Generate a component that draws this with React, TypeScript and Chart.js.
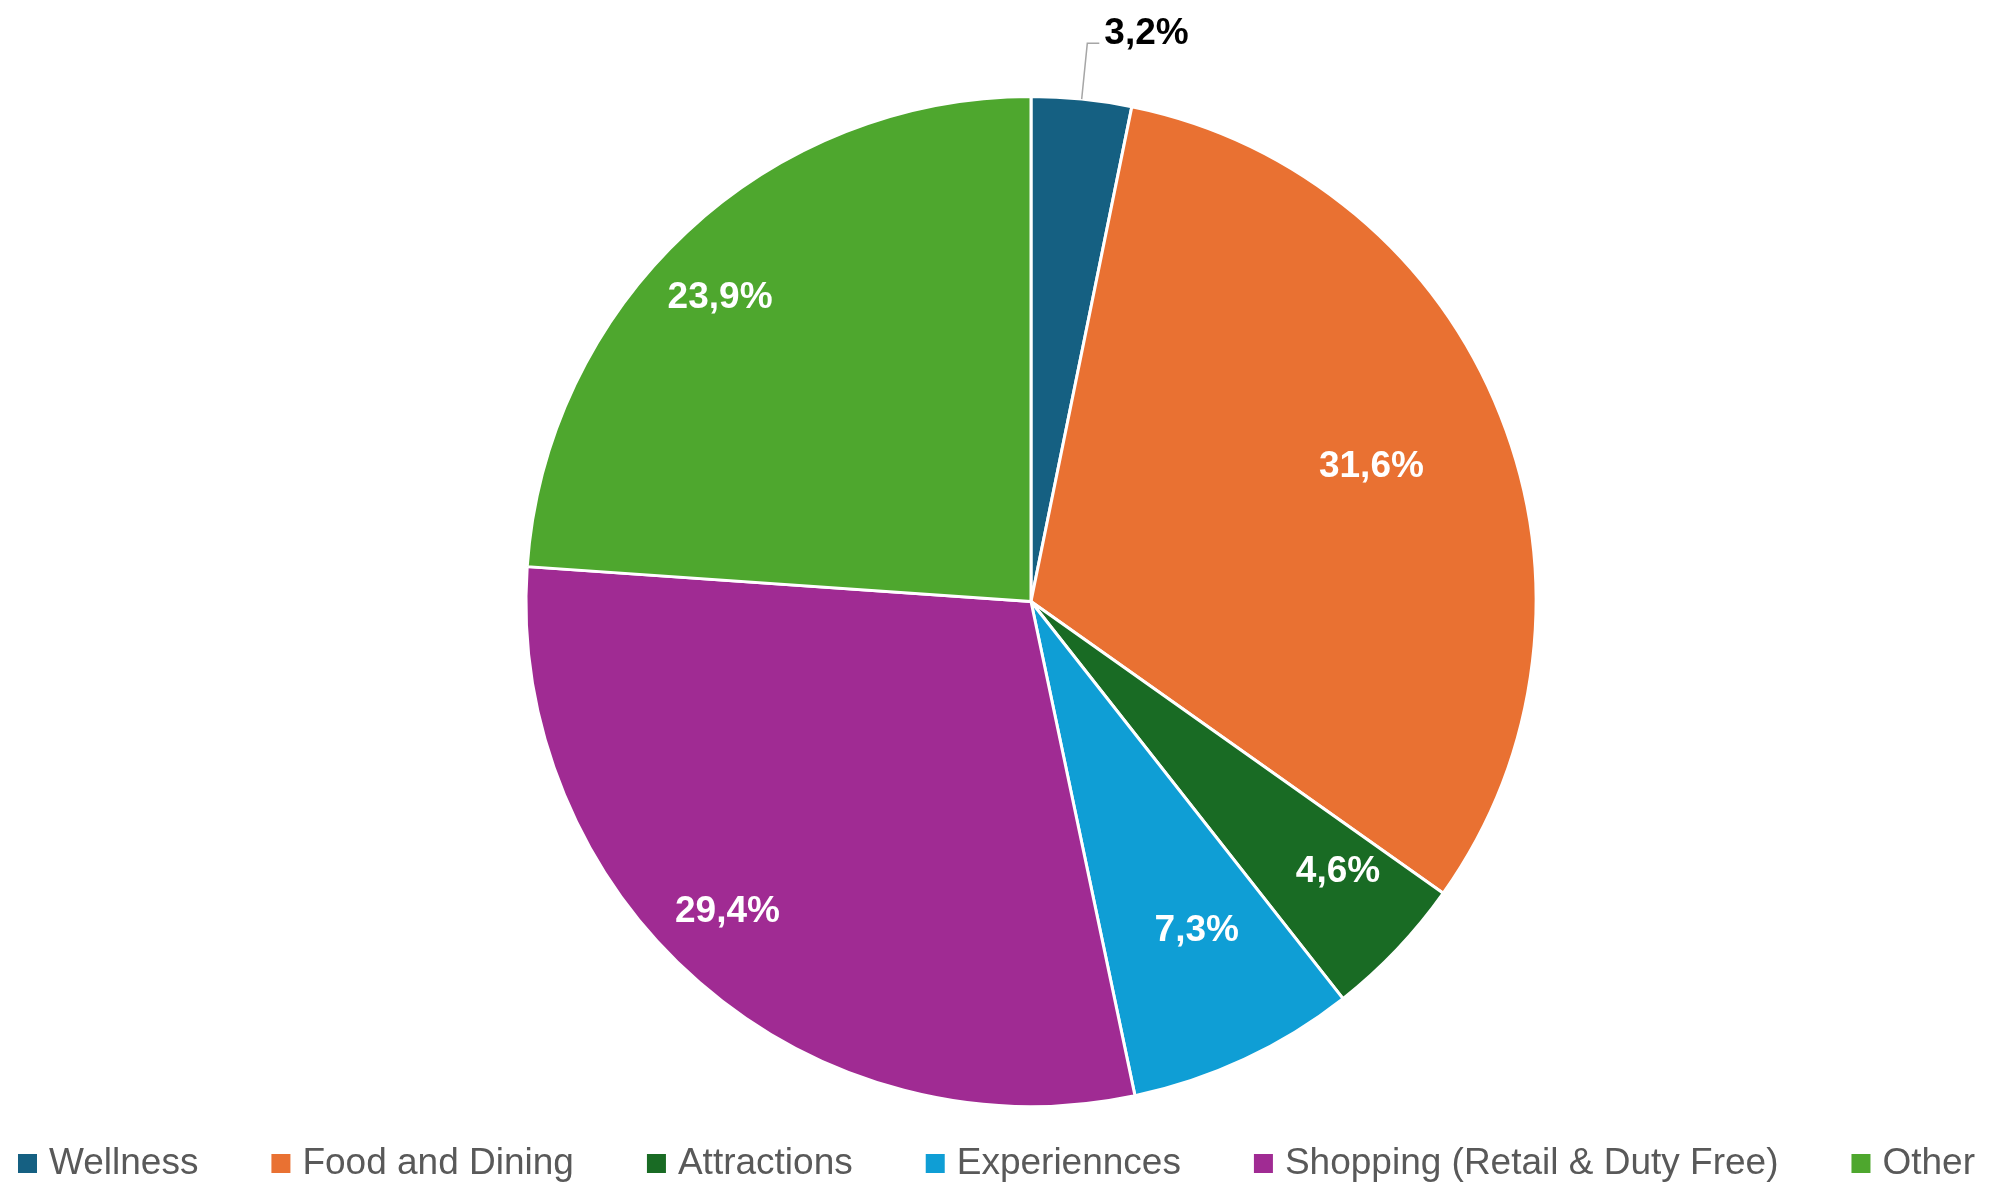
import React, { useEffect, useRef } from "react";
import { Chart, registerables } from "chart.js";

Chart.register(...registerables);

const categories = ["Wellness", "Food and Dining", "Attractions", "Experiennces", "Shopping (Retail & Duty Free)", "Other"];
const shares = [3.2, 31.6, 4.6, 7.3, 29.4, 23.9];
const colors = ["#156082", "#E97132", "#196B24", "#0F9ED5", "#A02B93", "#4EA72E"];
// label placement style: fraction of radius for inside labels (0 = outside with leader)
const labelRadius = [0, 0.725, 0.81, 0.73, 0.86, 0.86];
// small angular nudge of each label (degrees), style only
const labelNudge = [0, 0, -2.2, -1.7, 3.3, -2.7];

const fmt = (v: number) => v.toFixed(1).replace(".", ",") + "%";

const labelPlugin = {
  id: "sliceLabels",
  afterDatasetsDraw(chart: any) {
    const ctx = chart.ctx;
    const meta = chart.getDatasetMeta(0);
    const ds = chart.data.datasets[0];
    ctx.save();
    ctx.font = "bold 37px 'Liberation Sans', Arial, sans-serif";
    meta.data.forEach((arc: any, i: number) => {
      const { x, y, startAngle, endAngle, outerRadius } = arc.getProps(["x", "y", "startAngle", "endAngle", "outerRadius"], true);
      const mid = (startAngle + endAngle) / 2 + (labelNudge[i] * Math.PI) / 180;
      const text = fmt(ds.data[i]);
      const f = labelRadius[i];
      if (f > 0) {
        const r = outerRadius * f;
        ctx.fillStyle = "#ffffff";
        ctx.textAlign = "center";
        ctx.textBaseline = "middle";
        ctx.fillText(text, x + Math.cos(mid) * r, y + Math.sin(mid) * r);
      } else {
        const x0 = x + Math.cos(mid) * outerRadius;
        const y0 = y + Math.sin(mid) * outerRadius;
        const x1 = x + Math.cos(mid) * (outerRadius + 56);
        const y1 = y + Math.sin(mid) * (outerRadius + 56);
        const x2 = x1 + 12;
        ctx.strokeStyle = "#a6a6a6";
        ctx.lineWidth = 1.5;
        ctx.beginPath();
        ctx.moveTo(x0, y0);
        ctx.lineTo(x1, y1);
        ctx.lineTo(x2, y1);
        ctx.stroke();
        ctx.fillStyle = "#000000";
        ctx.textAlign = "left";
        ctx.textBaseline = "middle";
        ctx.fillText(text, x2 + 5, y1 - 10);
      }
    });
    ctx.restore();
  },
};

const legendPlugin = {
  id: "bottomLegend",
  afterDraw(chart: any) {
    const ctx = chart.ctx;
    const labels = chart.data.labels as string[];
    const bg = chart.data.datasets[0].backgroundColor as string[];
    ctx.save();
    ctx.font = "37px 'Liberation Sans', Arial, sans-serif";
    const box = 19;
    const gapText = 12;
    const gapItem = 73;
    const widths = labels.map((l) => ctx.measureText(l).width);
    const total = widths.reduce((a, w) => a + box + gapText + w, 0) + gapItem * (labels.length - 1);
    let cx = (chart.width - total) / 2 + 2;
    const cy = 1163.5;
    labels.forEach((l, i) => {
      ctx.fillStyle = bg[i];
      ctx.fillRect(cx, cy - box / 2, box, box);
      ctx.fillStyle = "#595959";
      ctx.textAlign = "left";
      ctx.textBaseline = "middle";
      ctx.fillText(l, cx + box + gapText, cy);
      cx += box + gapText + widths[i] + gapItem;
    });
    ctx.restore();
  },
};

export default function App() {
  const ref = useRef<HTMLCanvasElement>(null);
  useEffect(() => {
    document.body.style.margin = "0";
    const chart = new Chart(ref.current!, {
      type: "pie",
      data: {
        labels: categories,
        datasets: [
          {
            data: shares,
            backgroundColor: colors,
            borderColor: "#ffffff",
            borderWidth: 3,
          },
        ],
      },
      options: {
        animation: false,
        responsive: false,
        maintainAspectRatio: false,
        layout: { padding: { top: 95, bottom: 81, left: 73, right: 0 } },
        plugins: {
          legend: { display: false },
          tooltip: { enabled: false },
        },
      },
      plugins: [labelPlugin, legendPlugin],
    });
    return () => chart.destroy();
  }, []);
  return (
    <div style={{ position: "absolute", left: 0, top: 0, width: 1989, height: 1189, background: "#fff" }}>
      <canvas ref={ref} width={1989} height={1189} style={{ width: 1989, height: 1189 }} />
    </div>
  );
}
